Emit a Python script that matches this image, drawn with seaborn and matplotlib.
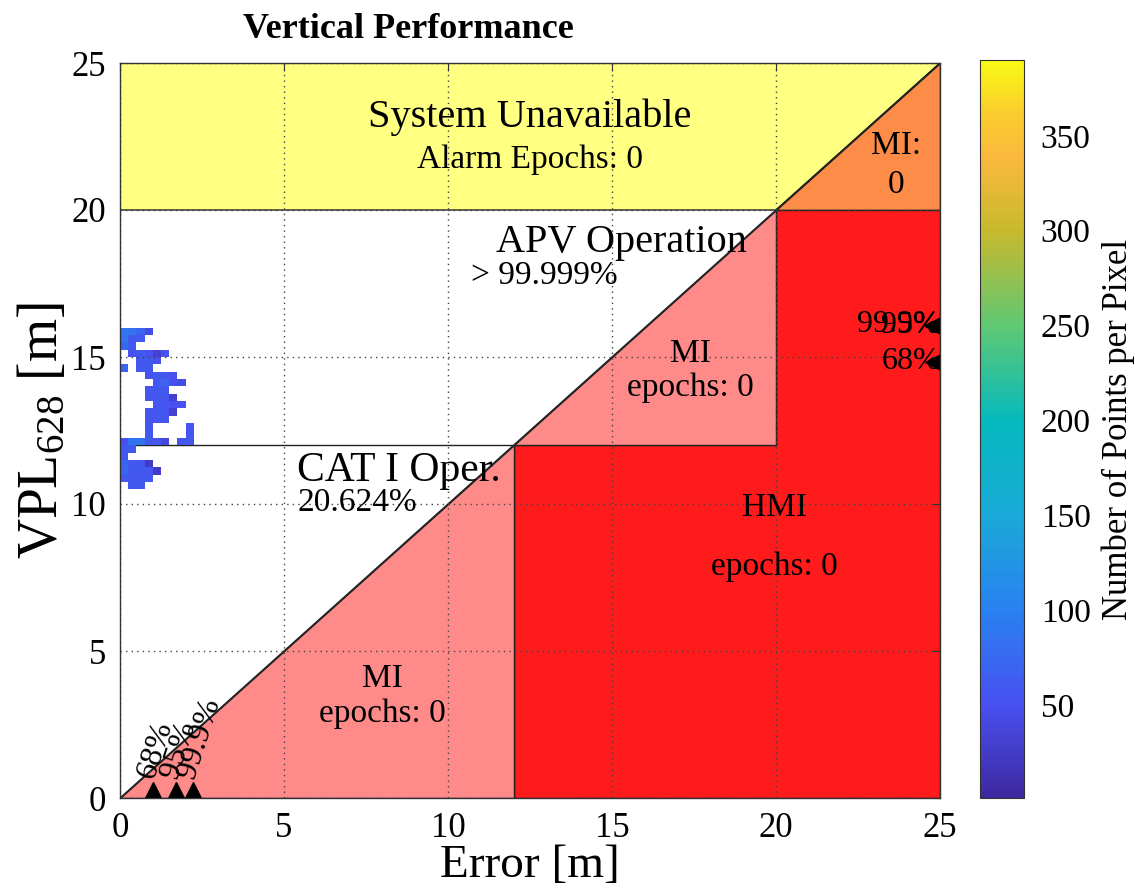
import numpy as np
import pandas as pd
import matplotlib
matplotlib.use("Agg")
import matplotlib.pyplot as plt
from matplotlib.colors import LinearSegmentedColormap
import seaborn as sns

# ---------------- data ----------------
# Stanford-diagram 2-D histogram cells (error [m], VPL [m], points per pixel)
pix_err = [0.125, 0.375, 0.625, 0.875,
           0.125, 0.375, 0.625,
           0.125, 0.375,
           0.375, 0.625, 0.875, 1.125, 1.375,
           0.625, 0.875, 1.125,
           0.125, 0.625, 0.875,
           0.875, 1.125, 1.375, 1.625,
           1.125, 1.375, 1.625, 1.875,
           0.875, 1.125, 1.375,
           0.875, 1.125, 1.375, 1.625,
           1.125, 1.375, 1.625, 1.875,
           0.875, 1.125, 1.375, 1.625,
           0.875, 1.125, 1.375,
           0.875, 2.125,
           0.875, 2.125,
           0.125, 0.375, 0.625, 0.875, 1.125, 1.375, 1.875, 2.125,
           0.125, 0.375,
           0.125,
           0.125, 0.375, 0.625, 0.875,
           0.125, 0.375, 0.625, 0.875, 1.125,
           0.125, 0.375, 0.625, 0.875,
           0.375, 0.625]
pix_vpl = [15.875] * 4 + [15.625] * 3 + [15.375] * 2 + [15.125] * 5 + \
          [14.875] * 3 + [14.625] * 3 + [14.375] * 4 + [14.125] * 4 + \
          [13.875] * 3 + [13.625] * 4 + [13.375] * 4 + [13.125] * 4 + \
          [12.875] * 3 + [12.625] * 2 + [12.375] * 2 + [12.125] * 8 + \
          [11.875] * 2 + [11.625] * 1 + [11.375] * 4 + [11.125] * 5 + \
          [10.875] * 4 + [10.625] * 2
pix_count = [85, 85, 70, 45,
             85, 60, 60,
             75, 60,
             50, 60, 50, 30, 50,
             60, 60, 50,
             70, 60, 60,
             50, 60, 55, 50,
             60, 70, 50, 45,
             55, 60, 60,
             55, 60, 55, 30,
             55, 55, 50, 50,
             55, 60, 55, 30,
             55, 55, 55,
             55, 55,
             55, 55,
             50, 85, 85, 60, 55, 40, 55, 55,
             60, 60,
             60,
             70, 60, 55, 25,
             70, 60, 60, 55, 25,
             60, 60, 55, 60,
             60, 60]

# protection-level / alert-limit structure
alert_cat = 12.0
alert_apv = 20.0
axis_max = 25.0

# percentile markers
err_pct_x = [1.0, 1.72, 2.23]
err_pct_labels = ["68%", "95%", "99.9%"]
vpl_pct_y = [14.83, 16.07, 16.1]
vpl_pct_labels = ["68%", "95%", "99.9%"]

cbar_ticks = [50, 100, 150, 200, 250, 300, 350]
cbar_min, cbar_max = 1, 390

# ---------------- style ----------------
sns.set_style("white")
plt.rcParams["font.family"] = ["Liberation Serif", "DejaVu Serif"]
plt.rcParams["mathtext.default"] = "regular"
for k in ["text.color", "axes.labelcolor", "xtick.labelcolor", "ytick.labelcolor"]:
    plt.rcParams[k] = "black"

parula_like = LinearSegmentedColormap.from_list("parula_like", [
    (0.00, (62/255, 40/255, 160/255)),
    (0.125, (72/255, 80/255, 240/255)),
    (0.255, (40/255, 130/255, 240/255)),
    (0.385, (25/255, 170/255, 215/255)),
    (0.51, (5/255, 185/255, 190/255)),
    (0.64, (95/255, 200/255, 115/255)),
    (0.77, (200/255, 185/255, 45/255)),
    (0.87, (250/255, 185/255, 60/255)),
    (0.93, (250/255, 205/255, 45/255)),
    (1.00, (248/255, 250/255, 20/255)),
])

W, H = 1135, 888
fig = plt.figure(figsize=(W / 100, H / 100), dpi=100)
ax = fig.add_axes([120 / W, 90 / H, 820 / W, 735 / H])
cax = fig.add_axes([980 / W, 90 / H, 44 / W, 738 / H])

yellow = "#ffff82"
orange = "#fd8c48"
pink = "#ff8a8a"
red = "#ff1b1b"
edge = "#222222"

a, b, m = alert_cat, alert_apv, axis_max
ax.fill([0, b, m, 0], [b, b, m, m], color=yellow, ec=edge, lw=1, zorder=0.5)
ax.fill([b, m, m], [b, b, m], color=orange, ec=edge, lw=1, zorder=0.5)
ax.fill([a, m, m, b, b, a], [0, 0, b, b, a, a], color=red, ec=edge, lw=1, zorder=0.5)
ax.fill([0, a, a], [0, 0, a], color=pink, ec=edge, lw=1, zorder=0.6)
ax.fill([a, b, b], [a, a, b], color=pink, ec=edge, lw=1, zorder=0.6)
ax.plot([0, m], [0, m], color=edge, lw=1, zorder=0.7)
ax.plot([0, a], [a, a], color=edge, lw=1, zorder=0.7)

df = pd.DataFrame({"err": pix_err, "vpl": pix_vpl, "n": pix_count})
sns.histplot(data=df, x="err", y="vpl", weights="n", binwidth=0.25,
             binrange=((0, m), (0, m)), cmap=parula_like,
             vmin=cbar_min, vmax=cbar_max, cbar=True, cbar_ax=cax,
             cbar_kws={"ticks": cbar_ticks}, ax=ax, zorder=1)

# percentile markers
ax.plot(err_pct_x, [0.25] * len(err_pct_x), ls="none", marker="^", ms=13,
        color="black", zorder=4)
for xv, lab in zip(err_pct_x, err_pct_labels):
    ax.text(xv - 0.2, 0.7, lab, rotation=72, rotation_mode="anchor",
            ha="left", va="center", fontsize=23, zorder=5)
ax.plot([m] * len(vpl_pct_y), vpl_pct_y, ls="none", marker="<", ms=22,
        color="black", zorder=4)
for yv, lab in zip(vpl_pct_y, vpl_pct_labels):
    ax.text(m, yv, lab, ha="right", va="center", fontsize=23, zorder=5)

# region annotations
big, small = 29, 24
ax.text(12.5, 23.15, "System Unavailable", ha="center", va="center", fontsize=big)
ax.text(12.5, 21.7, "Alarm Epochs: 0", ha="center", va="center", fontsize=small)
ax.text(23.65, 22.2, "MI:", ha="center", va="center", fontsize=small)
ax.text(23.65, 20.85, "0", ha="center", va="center", fontsize=small)
ax.text(15.3, 18.9, "APV Operation", ha="center", va="center", fontsize=big)
ax.text(12.95, 17.75, "> 99.999%", ha="center", va="center", fontsize=small)
ax.text(17.4, 15.1, "MI", ha="center", va="center", fontsize=small)
ax.text(17.4, 13.95, "epochs: 0", ha="center", va="center", fontsize=small)
ax.text(5.4, 11.12, "CAT I Oper.", ha="left", va="center", fontsize=30)
ax.text(5.4, 10.05, "20.624%", ha="left", va="center", fontsize=small)
ax.text(19.95, 9.86, "HMI", ha="center", va="center", fontsize=small)
ax.text(19.95, 7.86, "epochs: 0", ha="center", va="center", fontsize=small)
ax.text(8.0, 4.05, "MI", ha="center", va="center", fontsize=small)
ax.text(8.0, 2.86, "epochs: 0", ha="center", va="center", fontsize=small)

# axes
ax.set_xlim(0, m)
ax.set_ylim(0, m)
ax.set_xticks(np.arange(0, 26, 5))
ax.set_yticks(np.arange(0, 26, 5))
ax.grid(True, color="#444444", ls=(0, (1, 3)), lw=1)
ax.set_axisbelow(False)
ax.tick_params(direction="in", length=6, labelsize=25, pad=10,
               top=True, right=True, color="#333333")
for s in ax.spines.values():
    s.set_color("#333333")
    s.set_linewidth(1)
    s.set_zorder(6)
ax.set_xlabel("Error [m]", fontsize=34, labelpad=0)
ax.set_ylabel(r"VPL$_{628}$ [m]", fontsize=40, labelpad=2)

fig.text(408 / W, 1 - 29 / H, "Vertical Performance", ha="center", va="center",
         fontsize=26, fontweight="bold")

cax.tick_params(direction="in", length=6, labelsize=24, pad=12, color="#333333")
cax.set_ylabel("Number of Points per Pixel", fontsize=25, labelpad=8)
cax.yaxis.set_label_position("right")
for s in cax.spines.values():
    s.set_color("#333333")

fig.savefig("out.png", dpi=100)
